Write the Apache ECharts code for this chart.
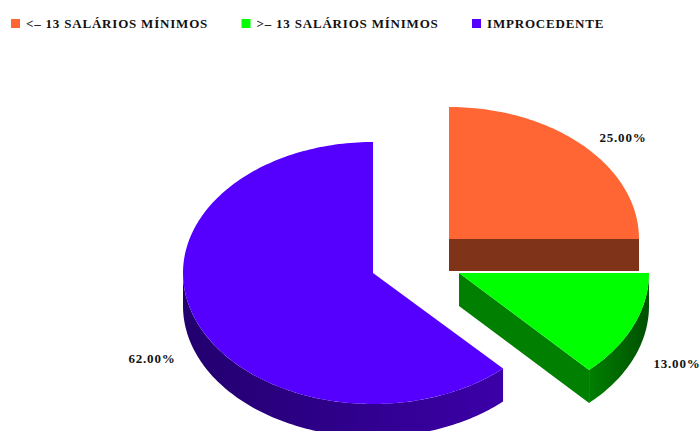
<!DOCTYPE html>
<html><head><meta charset="utf-8"><style>html,body{margin:0;background:#fff}#c{width:700px;height:431px;letter-spacing:.8px}</style>
<script src="https://cdn.jsdelivr.net/npm/echarts@6/dist/echarts.min.js"></script></head><body><div id="c"></div>
<script>
const categories = ['<– 13 SALÁRIOS MÍNIMOS', '>– 13 SALÁRIOS MÍNIMOS', 'IMPROCEDENTE'];
const values = [25, 13, 62];
const labels = ['25.00%', '13.00%', '62.00%'];
const topColors = ['#FF6633', '#00FF00', '#5500FF'];
const sideColors = [['#7F3319','#7F3319'], ['#007F00','#005000'], ['#3C00A8','#22006E']];
const apexes = [[449,239],[459,273],[373,273]];
const radiiY = [132,133,131];
const labelAt = [[623,137],[677,363],[152,358]];
const RX = 190, DEPTH = 33;
const total = values.reduce((a,b)=>a+b,0);
function arcPts(cx,cy,ry,a0,a1,dy){
  const pts=[];const n=Math.max(2,Math.ceil((a1-a0)/0.02));
  for(let i=0;i<=n;i++){const t=a0+(a1-a0)*i/n;pts.push([cx+RX*Math.sin(t),cy-ry*Math.cos(t)+dy]);}
  return pts;
}
let acc=0;
const spans=values.map(v=>{const s=[acc,acc+v/total*Math.PI*2];acc=s[1];return s;});
function render(i){
  return function(){
    const [cx,cy]=apexes[i];const [a0,a1]=spans[i];const ry=radiiY[i];
    const kids=[];
    const side=sideColors[i];
    const grad=(c)=>({type:'linear',x:0,y:0,x2:1,y2:0,colorStops:[{offset:0,color:c[0]},{offset:1,color:c[1]}]});
    if(i===0){
      kids.push({type:'polygon',shape:{points:[[cx,cy],[cx+RX,cy],[cx+RX,cy+DEPTH-1],[cx,cy+DEPTH-1]]},style:{fill:side[0]}});
    }
    if(i===1){
      const e=arcPts(cx,cy,ry,a1,a1,0)[0];
      kids.push({type:'polygon',shape:{points:[[cx,cy],e,[e[0],e[1]+DEPTH],[cx,cy+DEPTH]]},style:{fill:side[0]}});
      const top=arcPts(cx,cy,ry,a0,a1,0);const bot=arcPts(cx,cy,ry,a0,a1,DEPTH).reverse();
      kids.push({type:'polygon',shape:{points:top.concat(bot)},style:{fill:grad([side[0],side[1]])}});
    }
    if(i===2){
      const s=Math.PI*1.5;
      const top=arcPts(cx,cy,ry,a0,s,0);const bot=arcPts(cx,cy,ry,a0,s,DEPTH).reverse();
      kids.push({type:'polygon',shape:{points:top.concat(bot)},style:{fill:grad([side[1],side[0]])}});
    }
    kids.push({type:'polygon',shape:{points:[[cx,cy]].concat(arcPts(cx,cy,ry,a0,a1,0))},style:{fill:topColors[i]}});
    kids.push({type:'text',style:{x:labelAt[i][0],y:labelAt[i][1],text:labels[i],align:'center',verticalAlign:'middle',fill:'#111',font:'bold 13px "Liberation Serif"'}});
    return {type:'group',children:kids};
  };
}
const chart=echarts.init(document.getElementById('c'),null,{renderer:'svg'});
chart.setOption({
  animation:false,
  legend:{left:11,top:17,padding:0,itemWidth:9,itemHeight:9,itemGap:51,icon:'rect',
    data:categories,textStyle:{fontFamily:'Liberation Serif',fontWeight:'bold',fontSize:13,color:'#111',padding:[0,0,0,1]}},
  series:categories.map((name,i)=>({type:'custom',name,coordinateSystem:'none',itemStyle:{color:topColors[i]},
    data:[values[i]],renderItem:render(i),z:i===0?3:2}))
});
</script></body></html>
